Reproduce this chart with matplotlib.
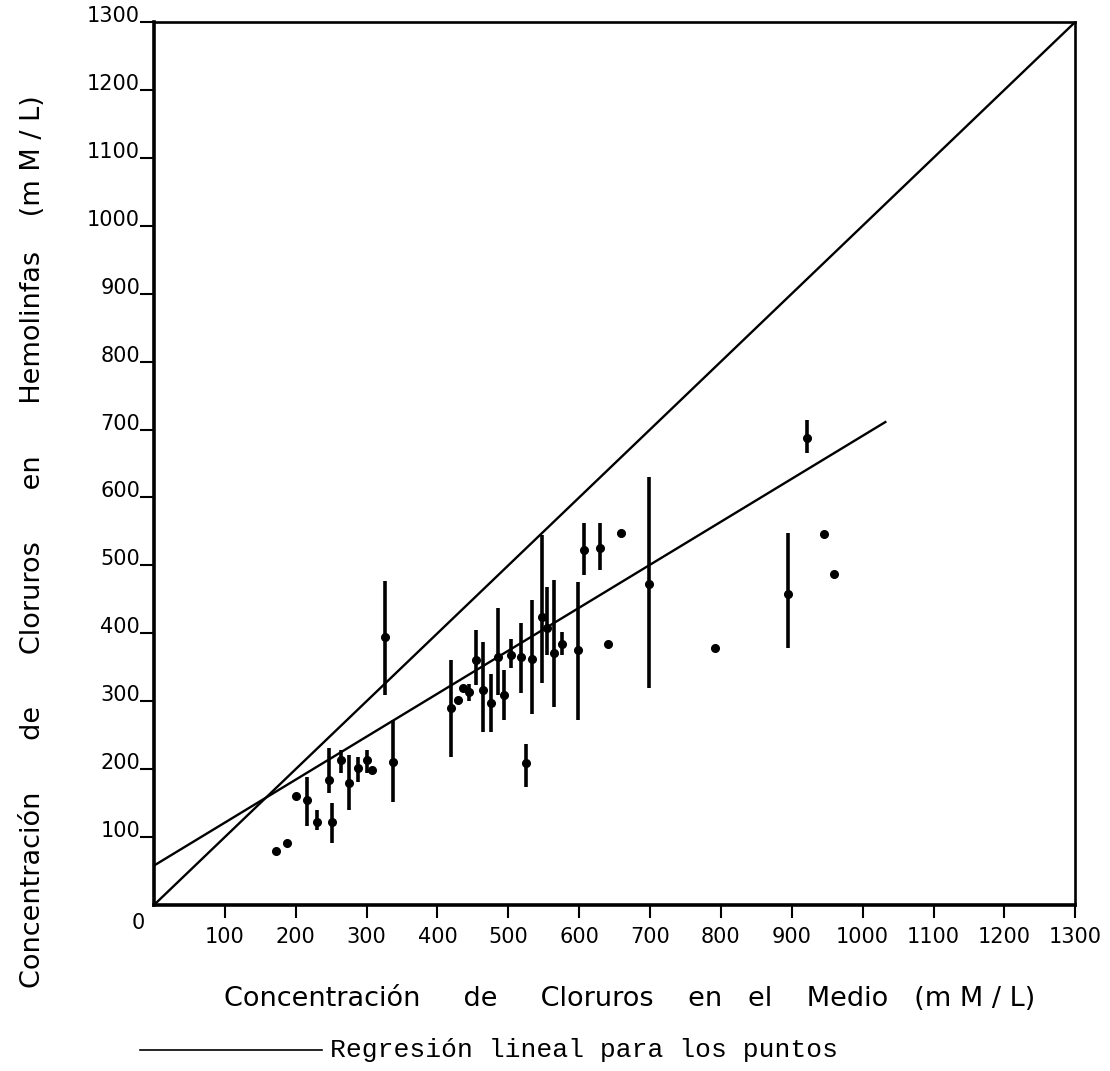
import matplotlib.pyplot as plt
import matplotlib.transforms as mtransforms

# puntos (medio, hemolinfa) con rango de la barra vertical
xMedio = [172, 188, 200, 216, 230, 247, 251, 264, 275, 288, 301, 308, 326, 338,
          419, 429, 436, 445, 455, 465, 476, 485, 494, 504, 518, 525, 534, 547,
          555, 565, 576, 599, 607, 629, 641, 659, 698, 792, 894, 922, 945, 959]
yHemo = [80, 91, 160, 155, 122, 184, 122, 213, 180, 202, 213, 199, 395, 211,
         290, 302, 320, 314, 361, 316, 297, 365, 309, 368, 365, 209, 362, 424,
         408, 371, 384, 376, 523, 526, 384, 548, 473, 378, 458, 688, 546, 487]
yMin = [80, 91, 160, 117, 110, 165, 92, 194, 140, 181, 194, 199, 309, 152,
        218, 302, 320, 301, 324, 255, 255, 309, 272, 349, 312, 174, 281, 327,
        368, 292, 368, 272, 486, 493, 384, 548, 320, 378, 378, 666, 546, 487]
yMax = [80, 91, 160, 189, 140, 231, 150, 228, 221, 218, 228, 199, 477, 272,
        361, 302, 320, 326, 405, 387, 340, 437, 346, 392, 415, 237, 449, 545,
        468, 479, 402, 476, 563, 563, 384, 548, 630, 378, 548, 714, 546, 487]

# recta de igualdad y recta de regresion (extremos)
igualX = [0, 1300]
igualY = [0, 1300]
regX = [0, 1032]
regY = [58, 711]

ticks = [100, 200, 300, 400, 500, 600, 700, 800, 900, 1000, 1100, 1200, 1300]

fig = plt.figure(figsize=(11.1, 10.71), dpi=100)
ax = fig.add_axes([0.1387, 0.155, 0.83, 0.8245])

ax.vlines(xMedio, yMin, yMax, color='black', linewidth=2.6)
ax.plot(xMedio, yHemo, 'o', color='black', markersize=5.5)
ax.plot(igualX, igualY, color='black', linewidth=1.7)
ax.plot(regX, regY, color='black', linewidth=1.7)

ax.set_xlim(0, 1300)
ax.set_ylim(0, 1300)
ax.set_xticks(ticks)
ax.set_yticks(ticks)
ax.tick_params(axis='x', direction='out', length=9, width=1.5, pad=7, labelsize=15)
ax.tick_params(axis='y', direction='out', length=10, width=1.5, pad=0, labelsize=15)
for lab in ax.get_yticklabels():
    lab.set_transform(lab.get_transform() + mtransforms.ScaledTranslation(0, 0.08, fig.dpi_scale_trans))

ax.spines['left'].set_linewidth(2.6)
ax.spines['bottom'].set_linewidth(2.6)
ax.spines['top'].set_linewidth(1.9)
ax.spines['right'].set_linewidth(1.9)

ax.text(-0.017, -0.02, "0", transform=ax.transAxes, ha='center', va='center', fontsize=15)

fig.text(0.567, 0.067, "Concentración     de     Cloruros    en   el    Medio   (m M / L)",
         ha='center', va='center', fontsize=19.5)
fig.text(0.03, 0.494, "Concentración      de      Cloruros      en      Hemolinfas    (m M / L)",
         ha='center', va='center', fontsize=19.5, rotation=90)

fig.add_artist(plt.Line2D([0.126, 0.29], [0.02, 0.02], color='black', linewidth=1.2))
fig.text(0.297, 0.02, "Regresión lineal para los puntos", ha='left', va='center',
         fontsize=19, family='Liberation Mono')

fig.savefig('out.png', dpi=100)
